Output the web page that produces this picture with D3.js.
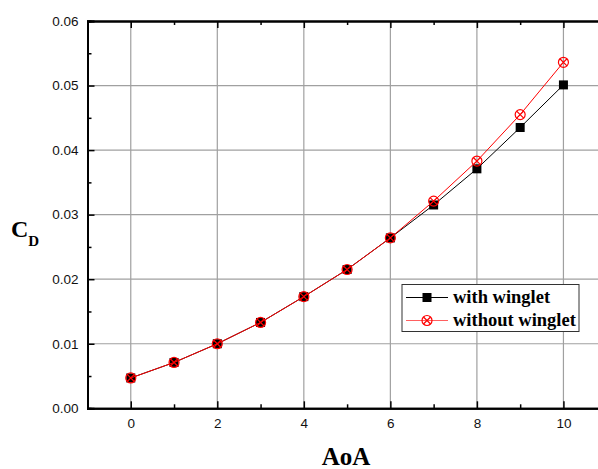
<!DOCTYPE html>
<html>
<head>
<meta charset="utf-8">
<script src="https://cdn.jsdelivr.net/npm/d3@7"></script>
<style>
  html, body { margin: 0; padding: 0; background: #fff; }
  svg { display: block; }
</style>
</head>
<body>
<svg id="chart" width="598" height="469"></svg>
<script>
// Drag coefficient versus angle of attack
const aoa = [0, 1, 2, 3, 4, 5, 6, 7, 8, 9, 10];
const cdWithWinglet = [0.0047, 0.0071, 0.0100, 0.0133, 0.0173, 0.0215, 0.0264, 0.0315, 0.0371, 0.0435, 0.0501];
const cdWithoutWinglet = [0.0047, 0.0071, 0.0100, 0.0133, 0.0173, 0.0215, 0.0264, 0.0321, 0.0383, 0.0455, 0.0536];
const seriesNames = ["with winglet", "without winglet"];
const xTicks = [0, 2, 4, 6, 8, 10];
const yTicks = [0.00, 0.01, 0.02, 0.03, 0.04, 0.05, 0.06];

const svg = d3.select("#chart");
const W = 598, H = 469;
const margin = { left: 87.5, top: 21, right: -8.7, bottom: 60.7 };

const x = d3.scaleLinear().domain([-1, 11]).range([margin.left, W - margin.right]);
const y = d3.scaleLinear().domain([0, 0.06]).range([H - margin.bottom, margin.top]);

const x0 = x.range()[0], x1 = x.range()[1];
const y0 = y.range()[0], y1 = y.range()[1];

// grid
const grid = svg.append("g").attr("stroke", "#a0a0a0").attr("stroke-width", 1.2);
grid.selectAll(".vg").data(xTicks).join("line")
  .attr("x1", d => x(d)).attr("x2", d => x(d)).attr("y1", y1).attr("y2", y0);
grid.selectAll(".hg").data(yTicks.slice(1, -1)).join("line")
  .attr("x1", x0).attr("x2", x1).attr("y1", d => y(d)).attr("y2", d => y(d));

// axes with inward ticks
const xMinor = d3.range(-1, 12, 1).filter(v => v % 2 !== 0);
const yMinor = d3.range(0.005, 0.06, 0.01);

const axisFont = "'Liberation Sans', Arial, sans-serif";

const bottomAxis = svg.append("g").attr("transform", `translate(0,${y0})`)
  .call(d3.axisBottom(x).tickValues(xTicks).tickSize(-7).tickPadding(10).tickFormat(d3.format("d")));
bottomAxis.append("g").call(d3.axisBottom(x).tickValues(xMinor).tickSize(-4).tickFormat(""));

const topAxis = svg.append("g").attr("transform", `translate(0,${y1})`)
  .call(d3.axisTop(x).tickValues(xTicks).tickSize(-7).tickFormat(""));
topAxis.append("g").call(d3.axisTop(x).tickValues(xMinor).tickSize(-4).tickFormat(""));

const leftAxis = svg.append("g").attr("transform", `translate(${x0},0)`)
  .call(d3.axisLeft(y).tickValues(yTicks).tickSize(-7).tickPadding(9).tickFormat(d3.format(".2f")));
leftAxis.append("g").call(d3.axisLeft(y).tickValues(yMinor).tickSize(-4).tickFormat(""));

svg.selectAll(".domain").attr("stroke", "#000").attr("stroke-width", 2);
svg.selectAll(".tick line").attr("stroke", "#000").attr("stroke-width", 1.5);
svg.selectAll(".tick text").attr("font-family", axisFont).attr("font-size", 13.5).attr("fill", "#111");

// series
const lineGen = d3.line().x(d => x(d[0])).y(d => y(d[1]));
const withPts = aoa.map((a, i) => [a, cdWithWinglet[i]]);
const withoutPts = aoa.map((a, i) => [a, cdWithoutWinglet[i]]);

svg.append("path").datum(withPts).attr("d", lineGen)
  .attr("fill", "none").attr("stroke", "#000").attr("stroke-width", 1);
svg.append("g").selectAll("rect").data(withPts).join("rect")
  .attr("x", d => x(d[0]) - 4.5).attr("y", d => y(d[1]) - 4.5)
  .attr("width", 9).attr("height", 9).attr("fill", "#000");

function crossCircle(g, cx, cy, r, color) {
  g.append("circle").attr("cx", cx).attr("cy", cy).attr("r", r)
    .attr("fill", "none").attr("stroke", color).attr("stroke-width", 1.2);
  const k = r * 0.707;
  g.append("path")
    .attr("d", `M${cx - k},${cy - k}L${cx + k},${cy + k}M${cx - k},${cy + k}L${cx + k},${cy - k}`)
    .attr("stroke", color).attr("stroke-width", 1.2);
}

svg.append("path").datum(withoutPts).attr("d", lineGen)
  .attr("fill", "none").attr("stroke", "#ff0000").attr("stroke-width", 1);
const redMarks = svg.append("g");
withoutPts.forEach(d => crossCircle(redMarks, x(d[0]), y(d[1]), 5, "#ff0000"));

// axis titles
const serif = "'Liberation Serif', 'Times New Roman', serif";
svg.append("text").attr("x", (x0 + x1) / 2 - 1).attr("y", 465)
  .attr("text-anchor", "middle").attr("font-family", serif).attr("font-weight", "bold")
  .attr("font-size", 25).text("AoA");

const cd = svg.append("text").attr("x", 11).attr("y", 237)
  .attr("font-family", serif).attr("font-weight", "bold").attr("font-size", 24);
cd.append("tspan").text("C");
cd.append("tspan").attr("font-size", 15).attr("dy", 9).text("D");

// legend
const lg = svg.append("g");
lg.append("rect").attr("x", 402).attr("y", 284.5).attr("width", 177).attr("height", 47)
  .attr("fill", "#fff").attr("stroke", "#333").attr("stroke-width", 1);
const rows = [
  { name: seriesNames[0], color: "#000", yy: 297.5 },
  { name: seriesNames[1], color: "#ff6060", yy: 320.5 }
];
rows.forEach((r, i) => {
  lg.append("line").attr("x1", 406).attr("x2", 448).attr("y1", r.yy).attr("y2", r.yy)
    .attr("stroke", r.color).attr("stroke-width", 1.2);
  if (i === 0) {
    lg.append("rect").attr("x", 427 - 4.5).attr("y", r.yy - 4.5).attr("width", 9).attr("height", 9).attr("fill", "#000");
  } else {
    crossCircle(lg, 427, r.yy, 5, "#ff0000");
  }
  lg.append("text").attr("x", 453).attr("y", r.yy + 5.5)
    .attr("font-family", serif).attr("font-weight", "bold").attr("font-size", 18.5)
    .attr("fill", "#000").text(r.name);
});
</script>
</body>
</html>
